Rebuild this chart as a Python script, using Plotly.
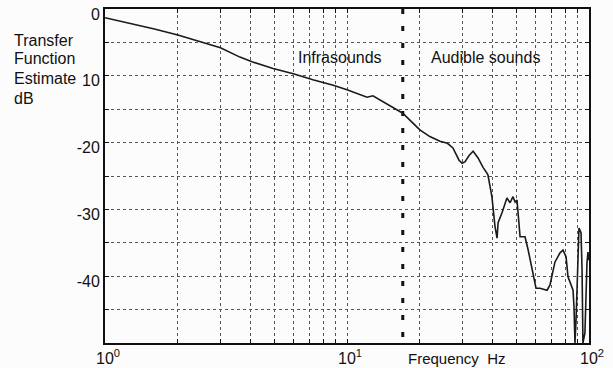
import math
import plotly.graph_objects as go

# ---- data ----
freq_hz = [1.0, 1.12, 1.31, 1.6, 2.0, 2.47, 3.0, 3.61, 4.05, 4.95, 6.0, 7.23, 8.77,
           10.0, 11.0, 12.1, 12.8, 14.1, 15.5, 17.0, 18.5, 20.0, 22.0, 24.2, 26.0,
           27.4, 29.0, 29.9, 30.7, 32.0, 33.2, 34.8, 36.5, 38.2, 39.7, 40.9, 41.7,
           42.1, 43.7, 45.8, 47.2, 48.5, 49.5, 50.4, 51.9, 54.4, 56.0, 58.7, 60.4,
           62.7, 67.1, 69.0, 70.3, 72.3, 75.9, 78.1, 80.4, 81.9, 84.3, 85.9, 86.7,
           87.5, 88.4, 90.1, 90.9, 92.7, 93.6, 94.4, 96.2, 98.1, 99.0, 100.0]
transfer_db = [-1.3, -1.7, -2.2, -3.0, -3.9, -4.9, -5.8, -7.2, -7.9, -8.9, -9.7, -10.6, -11.4,
               -12.1, -12.6, -13.2, -13.0, -13.9, -14.8, -15.6, -16.9, -18.1, -19.1, -19.8, -20.1,
               -20.8, -22.6, -23.1, -22.9, -21.9, -21.3, -22.3, -23.7, -24.8, -28.1, -32.6, -34.3,
               -32.0, -30.5, -28.3, -29.0, -28.1, -28.9, -28.6, -34.1, -34.1, -36.0, -39.5, -41.8,
               -41.8, -42.1, -41.3, -39.8, -37.9, -36.5, -36.1, -37.1, -40.1, -41.3, -42.1, -44.6,
               -50.0, -46.6, -36.5, -32.8, -33.5, -39.0, -50.0, -48.5, -38.0, -36.4, -37.6]

boundary_hz = 17.0
boundary_db = [0, -50]

x_tick_vals = [1, 10, 100]
x_tick_text = ["10<sup>0</sup>", "10<sup>1</sup>", "10<sup>2</sup>"]
x_minor_vals = [2, 3, 4, 5, 6, 7, 8, 9, 20, 30, 40, 50, 60, 70, 80, 90]

y_tick_vals = [0, -10, -20, -30, -40]
y_tick_text = ["0", "10", "-20", "-30", "-40"]
y_minor_vals = [-5, -15, -25, -35, -45]

region_labels = ["Infrasounds", "Audible sounds"]
region_label_x = [9.36, 37.2]
region_label_y = [-7.2, -7.2]

y_title_lines = ["Transfer", "Function", "Estimate", "dB"]
x_title = "Frequency  Hz"

FONT = "Liberation Sans, Arial, Helvetica, sans-serif"
GRID = "#555555"
INK = "#111111"

fig = go.Figure()

fig.add_trace(go.Scatter(
    x=[boundary_hz, boundary_hz], y=boundary_db, mode="lines",
    line=dict(color=INK, width=3, dash="5px,12px"),
    hoverinfo="skip", showlegend=False))

fig.add_trace(go.Scatter(
    x=freq_hz, y=transfer_db, mode="lines",
    line=dict(color="#1a1a1a", width=1.6),
    showlegend=False))

for txt, lx, ly in zip(region_labels, region_label_x, region_label_y):
    fig.add_annotation(x=math.log10(lx), y=ly, xref="x", yref="y",
                       text=txt, showarrow=False,
                       font=dict(family=FONT, size=16, color=INK),
                       xanchor="center", yanchor="middle")

title_y_px = [40, 59, 78, 98]
for txt, ypx in zip(y_title_lines, title_y_px):
    fig.add_annotation(x=(12 - 105) / 484, y=(343 - ypx) / 334, xref="paper", yref="paper",
                       text=txt, showarrow=False, xanchor="left", yanchor="middle",
                       font=dict(family=FONT, size=16, color=INK))

fig.add_annotation(x=(457 - 105) / 484, y=(343 - 358) / 334, xref="paper", yref="paper",
                   text=x_title, showarrow=False, xanchor="center", yanchor="middle",
                   font=dict(family=FONT, size=15, color=INK))

fig.update_xaxes(
    type="log", range=[0, 2], automargin=False,
    tickvals=x_tick_vals, ticktext=x_tick_text,
    tickfont=dict(family=FONT, size=16, color=INK),
    ticks="inside", ticklen=4, tickcolor=INK,
    ticklabelshift=3, ticklabeloverflow="allow",
    showgrid=True, gridcolor=GRID, griddash="dot", gridwidth=1,
    minor=dict(tickvals=x_minor_vals, showgrid=True, gridcolor=GRID, griddash="dot",
               gridwidth=1, ticks="inside", ticklen=4, tickcolor=INK),
    showline=True, linecolor=INK, linewidth=2, mirror="ticks",
    zeroline=False,
)
fig.update_yaxes(
    range=[-50, 0], automargin=False,
    tickvals=y_tick_vals, ticktext=y_tick_text,
    tickfont=dict(family=FONT, size=16, color=INK),
    ticks="inside", ticklen=4, tickcolor=INK,
    ticklabelshift=5, ticklabelstandoff=0, ticklabeloverflow="allow",
    showgrid=True, gridcolor=GRID, griddash="dot", gridwidth=1,
    minor=dict(tickvals=y_minor_vals, showgrid=True, gridcolor=GRID, griddash="dot",
               gridwidth=1, ticks="inside", ticklen=4, tickcolor=INK),
    showline=True, linecolor=INK, linewidth=2, mirror="ticks",
    zeroline=False,
)

fig.update_layout(
    width=613, height=368,
    margin=dict(l=105, r=24, t=9, b=25),
    paper_bgcolor="#fcfcfc", plot_bgcolor="#fcfcfc",
    font=dict(family=FONT, size=16, color=INK),
    showlegend=False,
)

fig.write_html("out.html")
